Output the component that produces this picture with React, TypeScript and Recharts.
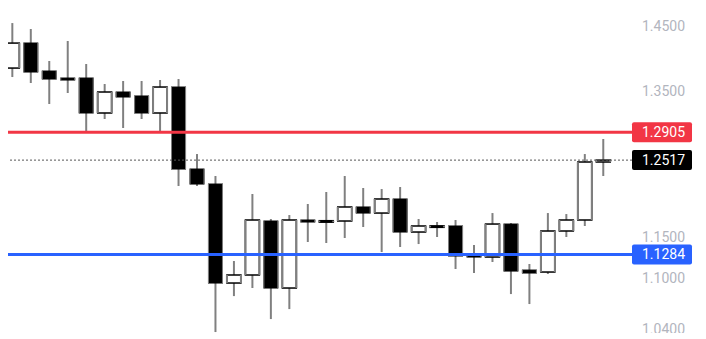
import { ComposedChart, Bar, XAxis, YAxis, ReferenceLine } from "recharts";

// Daily candles, oldest first
const opens = [
  1.3851, 1.4238, 1.3806, 1.37, 1.37, 1.3183, 1.3491, 1.3432, 1.3183, 1.3565, 1.2395,
  1.2192, 1.0934, 1.1031, 1.1706, 1.0874, 1.1719, 1.1706, 1.1706, 1.1888, 1.1809, 1.1993,
  1.1565, 1.1642, 1.1642, 1.1276, 1.1251, 1.1667, 1.1091, 1.1067, 1.1578, 1.1719, 1.2491,
];
const highs = [
  1.4554, 1.4459, 1.3959, 1.427, 1.3913, 1.361, 1.3655, 1.3655, 1.367, 1.3685, 1.2601,
  1.23, 1.1202, 1.2059, 1.1732, 1.1783, 1.1927, 1.2086, 1.23, 1.2139, 1.2125, 1.2152,
  1.1732, 1.1693, 1.1719, 1.1401, 1.1809, 1.168, 1.1165, 1.1809, 1.1796, 1.2601, 1.2811,
];
const lows = [
  1.3715, 1.3625, 1.3314, 1.3476, 1.2896, 1.3096, 1.2967, 1.3096, 1.291, 1.2166, 1.2166,
  1.036, 1.0778, 1.0874, 1.0509, 1.0625, 1.1439, 1.1426, 1.1489, 1.1629, 1.1313, 1.1376,
  1.1413, 1.1502, 1.1104, 1.1055, 1.119, 1.0802, 1.0684, 1.1043, 1.1502, 1.1642, 1.23,
];
const closes = [
  1.4237, 1.3791, 1.3685, 1.367, 1.3183, 1.3491, 1.3417, 1.3183, 1.3565, 1.2395, 1.2192,
  1.0934, 1.1031, 1.1719, 1.0874, 1.1719, 1.1693, 1.171, 1.1888, 1.1809, 1.1993, 1.1565,
  1.1642, 1.1644, 1.1264, 1.1251, 1.1667, 1.1079, 1.1055, 1.1578, 1.1719, 1.2491, 1.2517,
];

const priceTicks = [1.45, 1.35, 1.15, 1.1, 1.04];
const priceRange = [1.0281, 1.4928];
const resistance = 1.2905;
const support = 1.1284;
const lastPrice = 1.2517;
// bar slots visible on screen (first candle is half cut, empty space on the right)
const slotRange = [-0.22, 33.57];

const FONT = "Roboto, 'Noto Sans', sans-serif";

// log price scale -> plot ln(price) on a linear axis
const data = opens.map((open, i) => ({
  idx: i,
  open,
  high: highs[i],
  low: lows[i],
  close: closes[i],
  range: [Math.log(lows[i]), Math.log(highs[i])],
}));

function Candle(props: any) {
  const { x, y, width, height, payload } = props;
  if (x == null || y == null) return null;
  const { open, close, high, low } = payload;
  const top = Math.log(high);
  const span = top - Math.log(low);
  const k = span > 0 ? height / span : 0;
  const toY = (v: number) => y + (top - Math.log(v)) * k;
  const bodyTop = toY(Math.max(open, close));
  const bodyH = Math.max(toY(Math.min(open, close)) - bodyTop, 1.5);
  const cx = x + width / 2;
  const up = close >= open;
  return (
    <g>
      <line x1={cx} x2={cx} y1={y} y2={y + height} stroke="#808080" strokeWidth={2} />
      <rect
        x={x + 0.5}
        y={bodyTop}
        width={width - 1}
        height={bodyH}
        fill={up ? "#ffffff" : "#000000"}
        stroke="#000000"
        strokeWidth={up ? 1.5 : 1}
      />
      <line x1={x + 0.5} x2={x + 0.5} y1={bodyTop} y2={bodyTop + bodyH} stroke="#808080" strokeWidth={up ? 2 : 1} />
      <line
        x1={x + width - 0.5}
        x2={x + width - 0.5}
        y1={bodyTop}
        y2={bodyTop + bodyH}
        stroke="#808080"
        strokeWidth={up ? 2 : 1}
      />
    </g>
  );
}

function PriceTick(props: any) {
  const { x, y, payload } = props;
  return (
    <text x={x} y={y} dominantBaseline="central" fill="#b2b5be" fontSize={14} fontFamily={FONT}>
      {Math.exp(payload.value).toFixed(4)}
    </text>
  );
}

function PriceTag(props: any) {
  const { viewBox, text, fill } = props;
  if (!viewBox) return null;
  const left = viewBox.x + viewBox.width;
  return (
    <g>
      <rect x={left} y={viewBox.y - 10} width={60} height={20} rx={2} fill={fill} />
      <text
        x={left + 10}
        y={viewBox.y}
        dominantBaseline="central"
        fill="#ffffff"
        fontSize={14}
        fontFamily={FONT}
      >
        {text}
      </text>
    </g>
  );
}

export default function App() {
  return (
    <div
      style={{
        position: "absolute",
        left: 0,
        top: 0,
        width: 706,
        height: 333,
        overflow: "hidden",
        background: "#ffffff",
      }}
    >
      <ComposedChart width={706} height={339} data={data} margin={{ top: 0, right: 0, bottom: 0, left: 8 }}>
        <XAxis
          dataKey="idx"
          type="number"
          domain={slotRange}
          ticks={data.map((d) => d.idx)}
          allowDataOverflow
          hide
        />
        <YAxis
          orientation="right"
          type="number"
          width={74}
          domain={priceRange.map(Math.log)}
          ticks={priceTicks.map(Math.log)}
          interval={0}
          allowDataOverflow
          axisLine={false}
          tickLine={false}
          tickSize={0}
          tickMargin={10}
          tick={<PriceTick />}
        />
        <ReferenceLine
          y={Math.log(lastPrice)}
          stroke="#555555"
          strokeWidth={1}
          strokeDasharray="2 2"
          label={<PriceTag text={lastPrice.toFixed(4)} fill="#000000" />}
        />
        <ReferenceLine
          y={Math.log(resistance)}
          stroke="#f23645"
          strokeWidth={3}
          label={<PriceTag text={resistance.toFixed(4)} fill="#f23645" />}
        />
        <ReferenceLine
          y={Math.log(support)}
          stroke="#2962ff"
          strokeWidth={3}
          label={<PriceTag text={support.toFixed(4)} fill="#2962ff" />}
        />
        <Bar dataKey="range" barSize={15} shape={<Candle />} isAnimationActive={false} />
      </ComposedChart>
    </div>
  );
}
